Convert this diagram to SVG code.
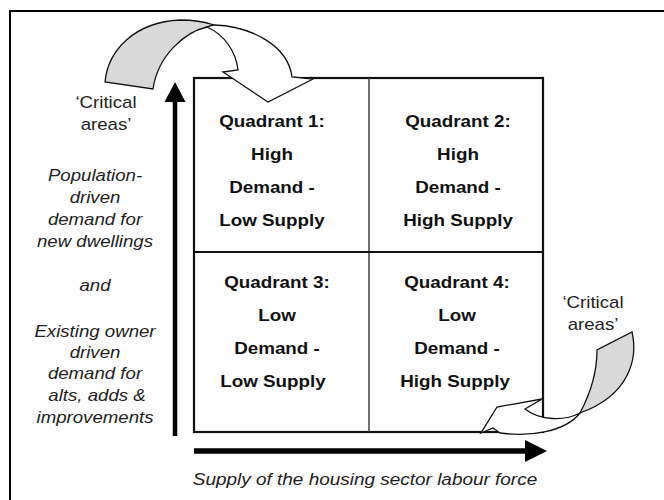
<svg xmlns="http://www.w3.org/2000/svg" width="664" height="500" viewBox="0 0 664 500">
<style>
.q{font-family:"Liberation Sans",Arial,sans-serif;font-size:16.5px;font-weight:bold;fill:#111;text-anchor:middle}
.i{font-family:"Liberation Sans",Arial,sans-serif;font-size:15.8px;font-style:italic;fill:#222;text-anchor:middle}
.n{font-family:"Liberation Sans",Arial,sans-serif;font-size:15.8px;fill:#222;text-anchor:middle}
.rib{stroke:#111;stroke-width:1.3;stroke-linejoin:miter}
</style>
<rect width="664" height="500" fill="#fff"/>
<g id="frame"><path d="M10,500 V11 H664" fill="none" stroke="#000" stroke-width="2"/></g>

<g id="grid">
<rect x="194" y="78" width="349" height="354" fill="#fff" stroke="#111" stroke-width="2.2"/>
<line x1="369" y1="78" x2="369" y2="432" stroke="#333" stroke-width="1.4"/>
<line x1="194" y1="252" x2="543" y2="252" stroke="#111" stroke-width="2"/>
</g>

<g id="q1">
<text class="q" transform="translate(272,127) scale(1.14,1)">Quadrant 1:</text>
<text class="q" transform="translate(272,160) scale(1.14,1)">High</text>
<text class="q" transform="translate(272,193) scale(1.14,1)">Demand -</text>
<text class="q" transform="translate(272,226) scale(1.14,1)">Low Supply</text>
</g>
<g id="q2">
<text class="q" transform="translate(458,127) scale(1.14,1)">Quadrant 2:</text>
<text class="q" transform="translate(458,160) scale(1.14,1)">High</text>
<text class="q" transform="translate(458,193) scale(1.14,1)">Demand -</text>
<text class="q" transform="translate(458,226) scale(1.14,1)">High Supply</text>
</g>
<g id="q3">
<text class="q" transform="translate(277,288) scale(1.14,1)">Quadrant 3:</text>
<text class="q" transform="translate(277,321) scale(1.14,1)">Low</text>
<text class="q" transform="translate(277,354) scale(1.14,1)">Demand -</text>
<text class="q" transform="translate(273,387) scale(1.14,1)">Low Supply</text>
</g>
<g id="q4">
<text class="q" transform="translate(457,288) scale(1.14,1)">Quadrant 4:</text>
<text class="q" transform="translate(457,321) scale(1.14,1)">Low</text>
<text class="q" transform="translate(457,354) scale(1.14,1)">Demand -</text>
<text class="q" transform="translate(455,387) scale(1.14,1)">High Supply</text>
</g>

<g id="connectors">
<g id="demand-axis">
<line x1="175" y1="100" x2="175" y2="436" stroke="#000" stroke-width="4.5"/>
<polygon points="175,82 185.5,102 164.5,102" fill="#000"/>
</g>
<g id="supply-axis">
<line x1="194" y1="451" x2="527" y2="451" stroke="#000" stroke-width="5.5"/>
<polygon points="547,451 525,440 525,462" fill="#000"/>
</g>
<g id="ribbon-top">
<path class="rib" fill="#d9d9d9" d="M105,82 C108,50 135,22 180,20 C195,20 205,22 214,25 L207,27 C185,32 158,55 153,89 Z"/>
<path class="rib" fill="#fff" d="M214,25 C250,26 288,45 292,77 L313,79 L268,102 L223,72 L238,70 C236,52 225,35 207,27 Z"/>
</g>
<g id="ribbon-bottom">
<path class="rib" fill="#d9d9d9" d="M632,332 C638,358 630,395 580,413 C588,398 597,375 597,350 Z"/>
<path class="rib" fill="#fff" d="M580,413 C565,421 540,421 525,409 L542,399 L497,407 L481,433 L493,428 L500,433 C530,437 565,432 580,413 Z"/>
</g>
</g>

<g id="label-left">
<text class="n" transform="translate(106,108) scale(1.18,1)">‘Critical</text>
<text class="n" transform="translate(106,130) scale(1.18,1)">areas’</text>
<text class="i" transform="translate(95,181) scale(1.18,1)">Population-</text>
<text class="i" transform="translate(95,203) scale(1.18,1)">driven</text>
<text class="i" transform="translate(95,225) scale(1.18,1)">demand for</text>
<text class="i" transform="translate(95,247) scale(1.18,1)">new dwellings</text>
<text class="i" transform="translate(95,291) scale(1.18,1)">and</text>
<text class="i" transform="translate(95,337) scale(1.18,1)">Existing owner</text>
<text class="i" transform="translate(95,358) scale(1.18,1)">driven</text>
<text class="i" transform="translate(95,379) scale(1.18,1)">demand for</text>
<text class="i" transform="translate(97,401) scale(1.18,1)">alts, adds &amp;</text>
<text class="i" transform="translate(95,423) scale(1.18,1)">improvements</text>
</g>
<g id="label-right">
<text class="n" transform="translate(593,308) scale(1.18,1)">‘Critical</text>
<text class="n" transform="translate(593,330) scale(1.18,1)">areas’</text>
</g>
<g id="label-bottom">
<text class="i" transform="translate(365,485) scale(1.2,1)">Supply of the housing sector labour force</text>
</g>
</svg>
